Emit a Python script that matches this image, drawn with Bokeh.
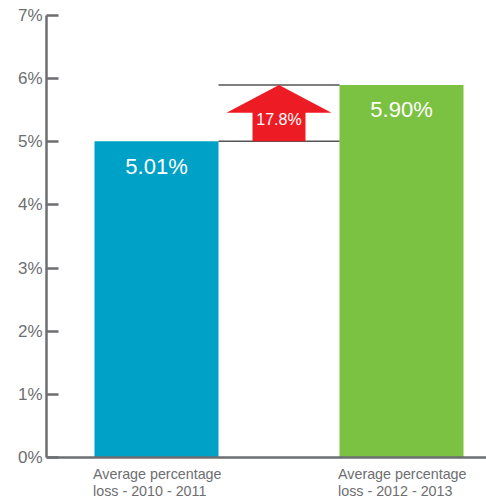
from bokeh.plotting import figure
from bokeh.models import ColumnDataSource, Range1d, FixedTicker, PrintfTickFormatter, Label, Span
from bokeh.core.properties import value
from bokeh.embed import file_html
from bokeh.resources import INLINE

# ---- data ----
category_line1 = ["Average percentage", "Average percentage"]
category_line2 = ["loss - 2010 - 2011", "loss - 2012 - 2013"]
loss_values = [5.01, 5.90]
value_labels = ["5.01%", "5.90%"]
y_ticks = [0, 1, 2, 3, 4, 5, 6, 7]
bar_colors = ["#00a1c6", "#7cc242"]

# ---- layout / style ----
bar_centers = [110, 355]
bar_width = 124
FONT = "Liberation Sans"
GRAY = "#6d6e71"
RED = "#ed1c24"
PLOT_H = 442          # pixels between 0% and 7%
BOTTOM_PAD = 45       # pixels below 0% for category labels
y_min = -BOTTOM_PAD * 7 / PLOT_H

p = figure(width=486, height=502, x_range=Range1d(0, 440), y_range=Range1d(y_min, 7),
           output_backend="svg", toolbar_location=None, x_axis_location=None,
           min_border_left=46, min_border_right=0, min_border_top=15, min_border_bottom=0)
p.outline_line_color = None
p.xgrid.visible = False
p.ygrid.visible = False

# y axis
ya = p.yaxis[0]
ya.bounds = (0, 7)
ya.ticker = FixedTicker(ticks=y_ticks)
ya.formatter = PrintfTickFormatter(format="%d%%")
ya.axis_line_color = GRAY
ya.axis_line_width = 2.5
ya.major_tick_line_color = GRAY
ya.major_tick_line_width = 2.5
ya.major_tick_in = 12
ya.major_tick_out = 0
ya.minor_tick_line_color = None
ya.major_label_standoff = 4
ya.major_label_text_font = FONT
ya.major_label_text_font_size = "17px"
ya.major_label_text_color = GRAY

# baseline (0%)
p.add_layout(Span(location=0, dimension="width", line_color=GRAY, line_width=2.5))

src = ColumnDataSource(dict(x=bar_centers, top=loss_values, color=bar_colors, label=value_labels,
                            left=[c - bar_width / 2 for c in bar_centers],
                            l1=category_line1, l2=category_line2, zero=[0, 0]))
p.vbar(x="x", top="top", bottom=0, width=bar_width, color="color", line_color=None, source=src)
p.text(x="x", y="top", text="label", source=src, text_color="white",
       text_font=value(FONT), text_font_size="22px", text_align="center",
       text_baseline="alphabetic", y_offset=25)

# category labels
p.text(x="left", y="zero", text="l1", source=src, text_color=GRAY,
       text_font=value(FONT), text_font_size="14.3px", text_align="left",
       text_baseline="alphabetic", y_offset=16, x_offset=-1.5)
p.text(x="left", y="zero", text="l2", source=src, text_color=GRAY,
       text_font=value(FONT), text_font_size="14.3px", text_align="left",
       text_baseline="alphabetic", y_offset=33, x_offset=-1.5)

# change indicator
v1, v2 = loss_values
gap_left = bar_centers[0] + bar_width / 2
gap_right = bar_centers[1] - bar_width / 2
cx = (gap_left + gap_right) / 2
shaft_hw = 26.5
head_hw = 52.5
head_h = 0.44
hb = v2 - head_h
p.segment(x0=[gap_left, gap_left], y0=[v1, v2], x1=[gap_right, gap_right], y1=[v1, v2],
          line_color="#555555", line_width=1.5)
p.patch(x=[cx - shaft_hw, cx - shaft_hw, cx - head_hw, cx, cx + head_hw, cx + shaft_hw, cx + shaft_hw],
        y=[v1, hb, hb, v2, hb, hb, v1], fill_color=RED, line_color=None)
change = (v2 - v1) / v1 * 100
p.add_layout(Label(x=cx, y=hb, y_offset=-6.5, text=f"{change:.1f}%", text_color="white",
                   text_font=FONT, text_font_size="16px", text_align="center",
                   text_baseline="alphabetic"))

open("out.html", "w").write(file_html(p, INLINE))
